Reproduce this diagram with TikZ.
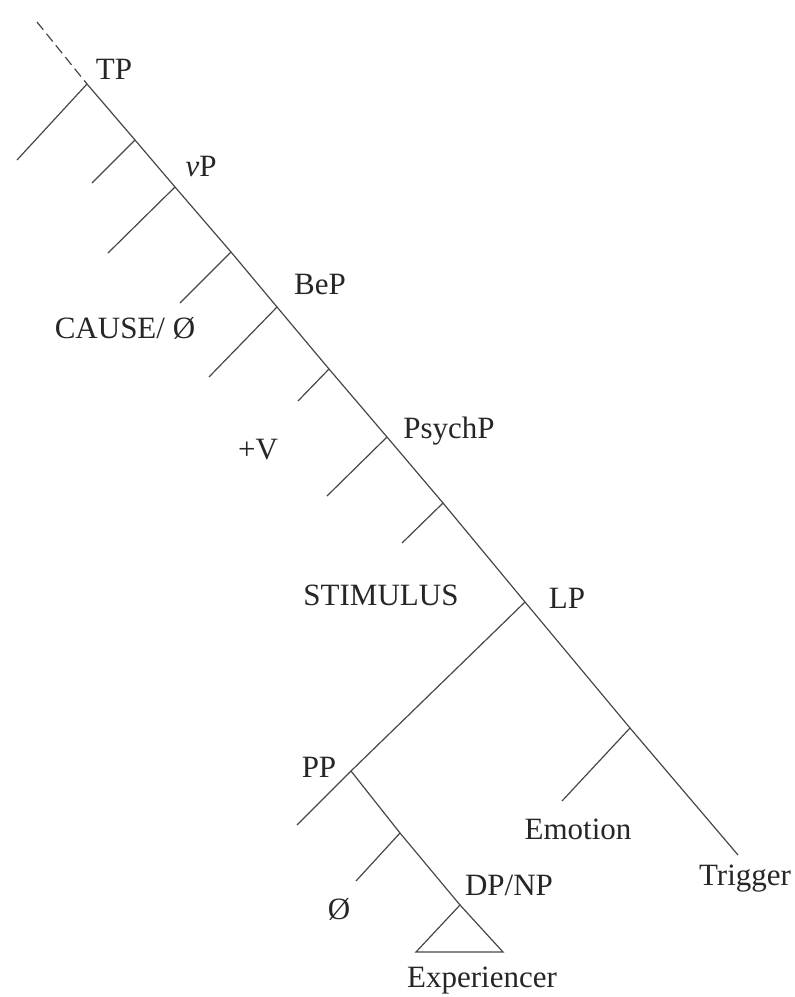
\documentclass[tikz,border=0pt]{standalone}
\usepackage{fontspec}
\setmainfont{Liberation Serif}
\begin{document}
\begin{tikzpicture}[x=1pt,y=-1pt,
  edge/.style={draw=black!72, line width=1.2pt},
  dashedge/.style={draw=black!72, line width=1.2pt, dash pattern=on 10pt off 5pt},
  lbl/.style={inner sep=0pt, text=black!85, font=\fontsize{31}{36}\selectfont}]
\useasboundingbox (0,0) rectangle (795,997);
% spine
\coordinate (top) at (37,22);
\coordinate (tp) at (87,84);
\coordinate (j2) at (135,140);
\coordinate (vp) at (175,187);
\coordinate (j4) at (231,252);
\coordinate (bep) at (277,307);
\coordinate (j6) at (329,369);
\coordinate (psy) at (387,437);
\coordinate (j8) at (443,503);
\coordinate (lp) at (525,602);
\coordinate (emo) at (630,728);
\coordinate (trig) at (738,855);
% branch ends
\coordinate (e1) at (17,160);
\coordinate (e2) at (92,183);
\coordinate (e3) at (108,253);
\coordinate (e4) at (180,303);
\coordinate (e5) at (209,377);
\coordinate (e6) at (298,401);
\coordinate (e7) at (327,496);
\coordinate (e8) at (402,543);
\coordinate (pp) at (351,771);
\coordinate (e9) at (562,801);
\coordinate (e10) at (297,825);
\coordinate (j10) at (400,833);
\coordinate (e11) at (356,881);
\coordinate (dp) at (460,905);
\coordinate (tl) at (416,952);
\coordinate (tr) at (503,952);

\draw[dashedge] (top) -- (tp);
\draw[edge] (tp) -- (j2) -- (vp) -- (j4) -- (bep) -- (j6) -- (psy) -- (j8) -- (lp) -- (emo) -- (trig);
\draw[edge] (tp) -- (e1);
\draw[edge] (j2) -- (e2);
\draw[edge] (vp) -- (e3);
\draw[edge] (j4) -- (e4);
\draw[edge] (bep) -- (e5);
\draw[edge] (j6) -- (e6);
\draw[edge] (psy) -- (e7);
\draw[edge] (j8) -- (e8);
\draw[edge] (lp) -- (pp);
\draw[edge] (emo) -- (e9);
\draw[edge] (pp) -- (e10);
\draw[edge] (pp) -- (j10) -- (dp);
\draw[edge] (j10) -- (e11);
\draw[edge] (dp) -- (tl) -- (tr) -- cycle;

% labels
\node[lbl] (lTP) at (114,69) {TP};
\node[lbl] (lvP) at (201,166) {\textit{v}P};
\node[lbl] (lBeP) at (320,284) {BeP};
\node[lbl] (lCause) at (125,328) {CAUSE/ Ø};
\node[lbl] (lV) at (258,450) {+V};
\node[lbl] (lPsy) at (449,431) {PsychP};
\node[lbl] (lStim) at (381,595) {STIMULUS};
\node[lbl] (lLP) at (567,598) {LP};
\node[lbl] (lPP) at (319,767) {PP};
\node[lbl] (lEmo) at (578,829) {Emotion};
\node[lbl] (lTrig) at (745,879) {Trigger};
\node[lbl] (lDP) at (509,885) {DP/NP};
\node[lbl] (lNull) at (339,909) {Ø};
\node[lbl] (lExp) at (482,981) {Experiencer};
\end{tikzpicture}
\end{document}
